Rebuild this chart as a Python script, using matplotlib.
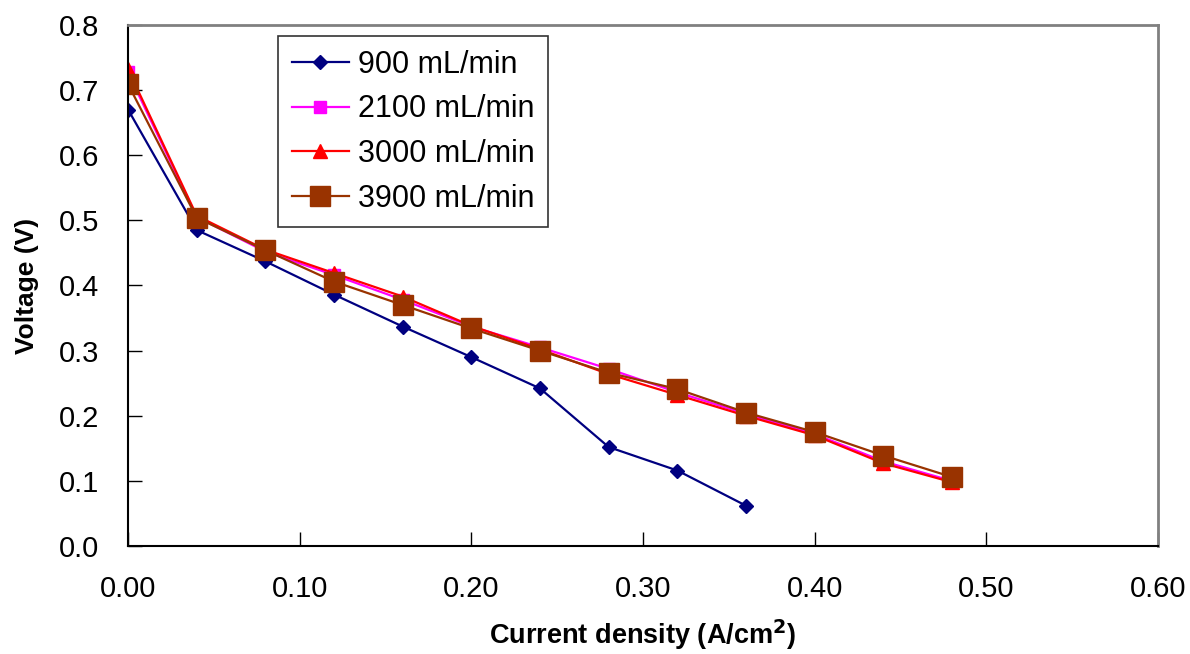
import matplotlib.pyplot as plt
import numpy as np

plt.rcParams['font.family'] = ['Liberation Sans', 'DejaVu Sans']

# current density (A/cm2)
x_900 = [0.00, 0.04, 0.08, 0.12, 0.16, 0.20, 0.24, 0.28, 0.32, 0.36]
x_all = [0.00, 0.04, 0.08, 0.12, 0.16, 0.20, 0.24, 0.28, 0.32, 0.36, 0.40, 0.44, 0.48]

# voltage (V)
v_900 = [0.670, 0.485, 0.437, 0.386, 0.337, 0.290, 0.242, 0.152, 0.116, 0.062]
v_2100 = [0.727, 0.505, 0.452, 0.416, 0.378, 0.337, 0.305, 0.272, 0.236, 0.203, 0.172, 0.130, 0.100]
v_3000 = [0.732, 0.507, 0.455, 0.419, 0.383, 0.338, 0.302, 0.264, 0.232, 0.200, 0.170, 0.127, 0.098]
v_3900 = [0.709, 0.504, 0.454, 0.406, 0.370, 0.334, 0.300, 0.266, 0.241, 0.205, 0.175, 0.139, 0.106]

labels = ["900 mL/min", "2100 mL/min", "3000 mL/min", "3900 mL/min"]

fig = plt.figure(figsize=(11.9, 6.54), dpi=100)
ax = fig.add_axes([0.1076, 0.165, 0.8655, 0.797])

ax.plot(x_900, v_900, color="#000080", marker="D", markersize=7.5, lw=1.6, label=labels[0])
ax.plot(x_all, v_2100, color="#FF00FF", marker="s", markersize=9, lw=1.6, label=labels[1])
ax.plot(x_all, v_3000, color="#FF0000", marker="^", markersize=10, lw=1.6, label=labels[2])
ax.plot(x_all, v_3900, color="#993300", marker="s", markersize=14, lw=1.6, label=labels[3])

ax.set_xlim(0, 0.6)
ax.set_ylim(0, 0.8)
ax.set_xticks(np.arange(0, 0.61, 0.1))
ax.set_yticks(np.arange(0, 0.81, 0.1))
ax.set_xticklabels(["%.2f" % t for t in np.arange(0, 0.61, 0.1)])
ax.set_yticklabels(["%.1f" % t for t in np.arange(0, 0.81, 0.1)])
ax.tick_params(direction="in", length=10, width=1, labelsize=21)
ax.tick_params(axis="y", pad=21)
ax.tick_params(axis="x", pad=21)

ax.spines["left"].set_color("black")
ax.spines["bottom"].set_color("black")
ax.spines["left"].set_linewidth(1.5)
ax.spines["bottom"].set_linewidth(1.5)
ax.spines["top"].set_color("#808080")
ax.spines["right"].set_color("#808080")
ax.spines["top"].set_linewidth(2)
ax.spines["right"].set_linewidth(2)

ax.set_xlabel("Current density (A/cm$^\\mathbf{2}$)", fontsize=19.5, fontweight="bold", labelpad=10)
ax.set_ylabel("Voltage (V)", fontsize=19, fontweight="bold", labelpad=14)

leg = ax.legend(loc="upper left", bbox_to_anchor=(0.146, 0.979), fontsize=22,
                frameon=True, fancybox=False, edgecolor="#333333", framealpha=1,
                handlelength=1.85, labelspacing=0.48, borderpad=0.45, handletextpad=0.3,
                borderaxespad=0)
leg.get_frame().set_linewidth(1.2)

fig.savefig("out.png", dpi=100)
